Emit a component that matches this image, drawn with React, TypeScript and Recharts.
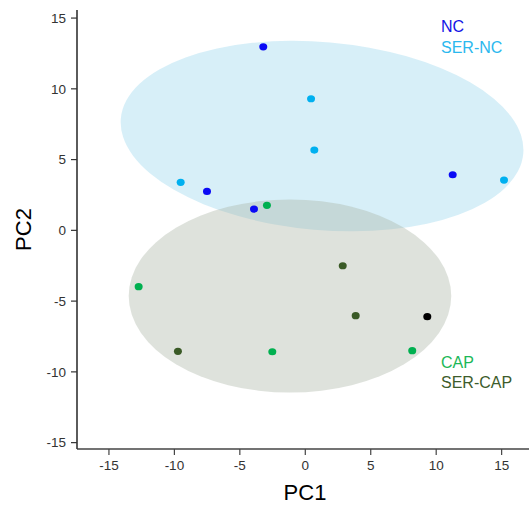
import { ScatterChart, Scatter, XAxis, YAxis, ReferenceArea, Cell } from "recharts";

const FONT = '"Liberation Sans", Arial, sans-serif';

// PCA scores (PC1, PC2) per group
const ncPoints = [
  { pc1: -3.21, pc2: 12.97 },
  { pc1: -7.51, pc2: 2.75 },
  { pc1: -3.92, pc2: 1.5 },
  { pc1: 11.26, pc2: 3.93 },
];
const serNcPoints = [
  { pc1: -9.52, pc2: 3.39 },
  { pc1: 0.44, pc2: 9.3 },
  { pc1: 0.69, pc2: 5.67 },
  { pc1: 15.18, pc2: 3.55 },
];
const capPoints = [
  { pc1: -2.93, pc2: 1.77 },
  { pc1: -12.73, pc2: -3.98 },
  { pc1: -2.52, pc2: -8.58 },
  { pc1: 8.17, pc2: -8.5 },
];
const serCapPoints = [
  { pc1: -9.73, pc2: -8.55 },
  { pc1: 2.86, pc2: -2.5 },
  { pc1: 3.85, pc2: -6.03 },
  { pc1: 9.32, pc2: -6.1 },
];

// group ellipses: centre, semi-axes (data units), tilt in degrees
const ncEllipse = { pc1: 1.28, pc2: 6.66, r1: 15.43, r2: 6.64, tilt: 5 };
const capEllipse = { pc1: -1.17, pc2: -4.64, r1: 12.32, r2: 6.82, tilt: 0 };

const xTicks = [-15, -10, -5, 0, 5, 10, 15];
const yTicks = [-15, -10, -5, 0, 5, 10, 15];
const xDomain = [-17.44, 17.09];
const yDomain = [-15.45, 15.57];

const ellipseShape = (tilt: number) => (p: any) => {
  const w = Math.abs(p.width);
  const h = Math.abs(p.height);
  const cx = Math.min(p.x, p.x + p.width) + w / 2;
  const cy = Math.min(p.y, p.y + p.height) + h / 2;
  return (
    <ellipse
      cx={cx}
      cy={cy}
      rx={w / 2}
      ry={h / 2}
      transform={`rotate(${tilt} ${cx} ${cy})`}
      fill={p.fill}
      fillOpacity={p.fillOpacity}
      stroke="none"
    />
  );
};

const Dot = (p: any) => <ellipse cx={p.cx} cy={p.cy} rx={4} ry={3.6} fill={p.fill} />;

export default function App() {
  return (
    <div
      style={{
        position: "absolute",
        left: 0,
        top: 0,
        width: 529,
        height: 507,
        background: "#fff",
        fontFamily: FONT,
      }}
    >
      <ScatterChart
        width={529}
        height={507}
        margin={{ top: 10, right: 0, bottom: 0, left: 0 }}
      >
        <XAxis
          type="number"
          dataKey="pc1"
          domain={xDomain}
          ticks={xTicks}
          allowDataOverflow
          height={58}
          tickSize={6}
          tickMargin={5}
          axisLine={{ stroke: "#444", strokeWidth: 1.6 }}
          tickLine={{ stroke: "#444", strokeWidth: 1.2 }}
          tick={{ fill: "#333", fontSize: 13.5, fontFamily: FONT }}
          label={{
            value: "PC1",
            position: "insideBottom",
            offset: 7,
            dx: 2,
            style: { fontSize: 22, fill: "#000", fontFamily: FONT },
          }}
        />
        <XAxis
          xAxisId="top"
          orientation="top"
          type="number"
          dataKey="pc1"
          domain={xDomain}
          allowDataOverflow
          height={0}
          tick={false}
          tickLine={false}
          axisLine={{ stroke: "#666", strokeWidth: 1.6 }}
        />
        <YAxis
          type="number"
          dataKey="pc2"
          domain={yDomain}
          ticks={yTicks}
          allowDataOverflow
          width={77}
          tickSize={6}
          tickMargin={5}
          axisLine={{ stroke: "#333", strokeWidth: 1.6 }}
          tickLine={{ stroke: "#333", strokeWidth: 1.2 }}
          tick={{ fill: "#333", fontSize: 13.5, fontFamily: FONT }}
          label={{
            value: "PC2",
            angle: -90,
            position: "insideLeft",
            offset: 23,
            style: { textAnchor: "middle", fontSize: 22, fill: "#000", fontFamily: FONT },
          }}
        />

        <ReferenceArea
          x1={ncEllipse.pc1 - ncEllipse.r1}
          x2={ncEllipse.pc1 + ncEllipse.r1}
          y1={ncEllipse.pc2 - ncEllipse.r2}
          y2={ncEllipse.pc2 + ncEllipse.r2}
          ifOverflow="visible"
          fill="#87ceeb"
          fillOpacity={0.33}
          shape={ellipseShape(ncEllipse.tilt)}
        />
        <ReferenceArea
          x1={capEllipse.pc1 - capEllipse.r1}
          x2={capEllipse.pc1 + capEllipse.r1}
          y1={capEllipse.pc2 - capEllipse.r2}
          y2={capEllipse.pc2 + capEllipse.r2}
          ifOverflow="visible"
          fill="#a7b2a2"
          fillOpacity={0.375}
          shape={ellipseShape(capEllipse.tilt)}
        />

        <Scatter name="NC" data={ncPoints} fill="#0a0af5" shape={Dot} isAnimationActive={false} />
        <Scatter name="SER-NC" data={serNcPoints} fill="#00b0f0" shape={Dot} isAnimationActive={false} />
        <Scatter name="CAP" data={capPoints} fill="#00b050" shape={Dot} isAnimationActive={false} />
        <Scatter name="SER-CAP" data={serCapPoints} fill="#3a5a26" shape={Dot} isAnimationActive={false}>
          {serCapPoints.map((_, i) => (
            <Cell key={i} fill={i === 3 ? "#000000" : "#3a5a26"} />
          ))}
        </Scatter>
      </ScatterChart>

      <svg
        width={529}
        height={507}
        style={{ position: "absolute", left: 0, top: 0, pointerEvents: "none" }}
      >
        <g fontFamily={FONT} fontSize={16}>
          <text x={441} y={32} fill="#1414e6">NC</text>
          <text x={441} y={52.5} fill="#2bb8ee">SER-NC</text>
          <text x={441} y={368} fill="#1cb858">CAP</text>
          <text x={441} y={388} fill="#3d5c2b">SER-CAP</text>
        </g>
      </svg>
    </div>
  );
}
